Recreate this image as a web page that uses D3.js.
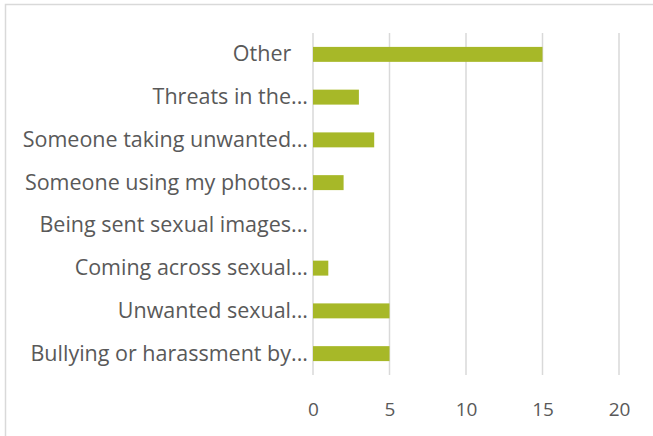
<!DOCTYPE html>
<html><head><meta charset="utf-8">
<script src="https://cdn.jsdelivr.net/npm/d3@7"></script>
<style>body{margin:0;background:#fff}svg{display:block}</style>
</head><body>
<svg id="c" width="653" height="436"></svg>
<script>
const categories = ["Other   ", "Threats in the...", "Someone taking unwanted...", "Someone using my photos...", "Being sent sexual images...", "Coming across sexual...", "Unwanted sexual...", "Bullying or harassment by..."];
const values = [15, 3, 4, 2, 0, 1, 5, 5];
const xTicks = [0, 5, 10, 15, 20];

const svg = d3.select("#c");
const font = "'Open Sans', 'DejaVu Sans', sans-serif";
const textColor = "#595959";

svg.append("rect").attr("x", 5.5).attr("y", 4.5).attr("width", 700).attr("height", 500)
  .attr("fill", "#fff").attr("stroke", "#d9d9d9").attr("stroke-width", 1.5);

const x = d3.scaleLinear().domain([0, 20]).range([313, 619]);
const y = d3.scaleBand().domain(categories).range([33, 375]).paddingInner(0.65).paddingOuter(0.325);

// gridlines
svg.append("g").selectAll("line").data(xTicks).join("line")
  .attr("x1", d => x(d)).attr("x2", d => x(d))
  .attr("y1", 33).attr("y2", 375)
  .attr("stroke", "#d9d9d9").attr("stroke-width", 1.5);

// bars
svg.append("g").selectAll("rect").data(values).join("rect")
  .attr("x", x(0)).attr("y", (d, i) => y(categories[i]))
  .attr("width", d => x(d) - x(0)).attr("height", y.bandwidth())
  .attr("fill", "#a7b828");

// x axis labels
const xAxis = d3.axisBottom(x).tickValues(xTicks).tickSize(0).tickPadding(0);
const gx = svg.append("g").attr("transform", "translate(0,402)").call(xAxis);
gx.select(".domain").remove();
gx.selectAll("text").attr("font-family", font).attr("font-size", 19).attr("fill", textColor);

// y axis labels
const yAxis = d3.axisLeft(y).tickSize(0).tickPadding(0)
  .tickFormat(d => d.replace(/ /g, "\u00a0"));
const gy = svg.append("g").attr("transform", "translate(308,0)").call(yAxis);
gy.select(".domain").remove();
gy.selectAll("text").attr("font-family", font).attr("font-size", 21.5).attr("fill", textColor);
</script>
</body></html>
